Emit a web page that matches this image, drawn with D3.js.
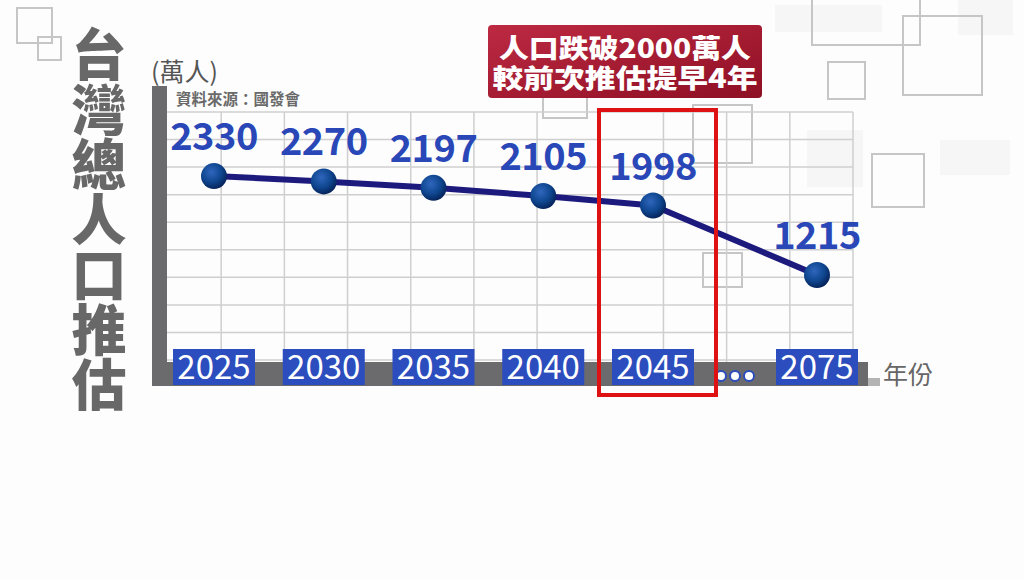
<!DOCTYPE html>
<html>
<head>
<meta charset="utf-8">
<script src="https://cdn.jsdelivr.net/npm/d3@7"></script>
<style>
  html,body{margin:0;padding:0;background:#fdfdfd;}
  svg{display:block;}
  text{font-family:"Noto Sans CJK TC","Noto Sans",sans-serif;}
</style>
</head>
<body>
<svg id="chart" width="1024" height="580"></svg>
<script>
// ---- data ----
const years = [2025, 2030, 2035, 2040, 2045, 2075];
const yearLabels = ["2025", "2030", "2035", "2040", "2045", "2075"];
const population = [2330, 2270, 2197, 2105, 1998, 1215];
const unitLabel = "(萬人)";
const sourceLabel = "資料來源：國發會";
const xAxisLabel = "年份";
const titleText = "台灣總人口推估";
const calloutLines = ["人口跌破2000萬人", "較前次推估提早4年"];
const highlightYear = 2045;

// ---- layout ----
const svg = d3.select("#chart");
const W = 1024, H = 580;
const plot = {left: 167, right: 853, top: 112, bottom: 362};

// decorative background squares (layout only)
const decoFill = [[775,5,107,27],[958,0,55,35],[807,130,56,57],[940,140,70,35]];
const decoSquares = [[17,8,35,35],[38,37,23,23],[812,-20,108,65],[903,16,79,79],[828,62,37,37],[872,154,52,53],[543,78,44,40],[693,105,59,58],[703,253,39,34]];

const defs = svg.append("defs");
const g1 = defs.append("linearGradient").attr("id","calloutGrad").attr("x1","0").attr("y1","0").attr("x2","1").attr("y2","1");
g1.append("stop").attr("offset","0%").attr("stop-color","#bd2a42");
g1.append("stop").attr("offset","100%").attr("stop-color","#8e0f24");
const rg = defs.append("radialGradient").attr("id","dotGrad").attr("cx","0.4").attr("cy","0.35").attr("r","0.65");
rg.append("stop").attr("offset","0%").attr("stop-color","#2f66bd");
rg.append("stop").attr("offset","60%").attr("stop-color","#0f468f");
rg.append("stop").attr("offset","100%").attr("stop-color","#06245c");

svg.append("rect").attr("width",W).attr("height",H).attr("fill","#fdfdfd");

svg.append("g").selectAll("rect").data(decoFill).join("rect")
  .attr("x",d=>d[0]).attr("y",d=>d[1]).attr("width",d=>d[2]).attr("height",d=>d[3])
  .attr("fill","#f6f6f6");
svg.append("g").selectAll("rect").data(decoSquares).join("rect")
  .attr("x",d=>d[0]).attr("y",d=>d[1]).attr("width",d=>d[2]).attr("height",d=>d[3])
  .attr("fill","none").attr("stroke","#c6c6c6").attr("stroke-width",2);

// ---- scales ----
// broken x-axis: 2025..2045 evenly, then a compressed gap to 2075
const x = d3.scaleLinear().domain([2025, 2045, 2075]).range([214, 653, 817]);
const y = d3.scaleLinear().domain([1000, 2500]).range([294, 161]);

// grid
const gx = d3.scaleLinear().domain([0, 11]).range([158, 853]);
const gy = d3.scaleLinear().domain([0, 9]).range([plot.top, 360]);
const grid = svg.append("g");
grid.selectAll("line.v").data(d3.range(1, 12)).join("line")
  .attr("x1",d=>gx(d)).attr("x2",d=>gx(d)).attr("y1",plot.top).attr("y2",plot.bottom)
  .attr("stroke","#cfcfcf").attr("stroke-width",1.5);
grid.selectAll("line.h").data(d3.range(0, 10)).join("line")
  .attr("x1",plot.left).attr("x2",plot.right).attr("y1",d=>gy(d)).attr("y2",d=>gy(d))
  .attr("stroke","#cfcfcf").attr("stroke-width",1.5);

// axis bars
svg.append("rect").attr("x",152).attr("y",86).attr("width",15).attr("height",300).attr("fill","#6b6b6d");
svg.append("rect").attr("x",152).attr("y",362).attr("width",716).attr("height",24).attr("fill","#6b6b6d");
svg.append("rect").attr("x",868).attr("y",378).attr("width",12).attr("height",8).attr("fill","#b4b4b4");

// unit + source
svg.append("text").attr("x",151).attr("y",81).attr("font-size",25).attr("fill","#555").text(unitLabel);
svg.append("text").attr("x",176).attr("y",105).attr("font-size",15.5).attr("font-weight",700).attr("fill","#6a6a6a").text(sourceLabel);

// vertical big title
svg.append("text").attr("x",99).attr("y",27)
  .style("writing-mode","vertical-rl")
  .attr("font-size",55).attr("font-weight",900).attr("fill","#686868")
  .text(titleText);

// line
const pts = years.map((yr,i)=>({year:yr, value:population[i], label:yearLabels[i]}));
svg.append("path").datum(pts)
  .attr("d", d3.line().x(d=>x(d.year)).y(d=>y(d.value)))
  .attr("fill","none").attr("stroke","#1d1a7e").attr("stroke-width",6).attr("stroke-linejoin","round");

// dots
svg.append("g").selectAll("circle").data(pts).join("circle")
  .attr("cx",d=>x(d.year)).attr("cy",d=>y(d.value)).attr("r",13)
  .attr("fill","url(#dotGrad)");

// value labels
svg.append("g").selectAll("text").data(pts).join("text")
  .attr("x",d=>x(d.year)).attr("y",d=>y(d.value)-26).attr("text-anchor","middle")
  .attr("font-family","'Noto Sans',sans-serif").attr("font-size",38).attr("font-weight",700)
  .attr("letter-spacing",-0.5).attr("fill","#2a47b8").text(d=>d.value);

// year label boxes
const yl = svg.append("g").selectAll("g").data(pts).join("g");
yl.append("rect").attr("x",d=>x(d.year)-41).attr("y",349).attr("width",82).attr("height",36).attr("fill","#2b4dbd");
yl.append("text").attr("x",d=>x(d.year)).attr("y",379).attr("text-anchor","middle")
  .attr("font-family","'Noto Sans',sans-serif").attr("font-size",33).attr("fill","#fff").text(d=>d.label);

// ellipsis between 2045 and 2075
const midYear = (years[4] + years[5]) / 2;
svg.append("g").selectAll("circle").data([-1,0,1]).join("circle")
  .attr("cx",d=>x(midYear)+d*14).attr("cy",376).attr("r",5)
  .attr("fill","#fff").attr("stroke","#2b4dbd").attr("stroke-width",2);

// x axis label
svg.append("text").attr("x",883).attr("y",384).attr("font-size",25).attr("fill","#666").text(xAxisLabel);

// highlight box around 2045
const hx = x(highlightYear);
svg.append("rect").attr("x",hx-54).attr("y",110).attr("width",117).attr("height",285)
  .attr("fill","none").attr("stroke","#de1212").attr("stroke-width",4);

// callout
svg.append("rect").attr("x",488).attr("y",25).attr("width",274).attr("height",73).attr("rx",4)
  .attr("fill","url(#calloutGrad)");
const cl = [[58, 252], [88, 265]];
svg.append("g").selectAll("text").data(calloutLines).join("text")
  .attr("x",625).attr("y",(d,i)=>cl[i][0]).attr("text-anchor","middle")
  .attr("textLength",(d,i)=>cl[i][1]).attr("lengthAdjust","spacingAndGlyphs")
  .attr("font-family","'Liberation Sans','Noto Sans CJK TC',sans-serif")
  .attr("font-size",26.5).attr("font-weight",900).attr("fill","#fff").text(d=>d);
</script>
</body>
</html>
